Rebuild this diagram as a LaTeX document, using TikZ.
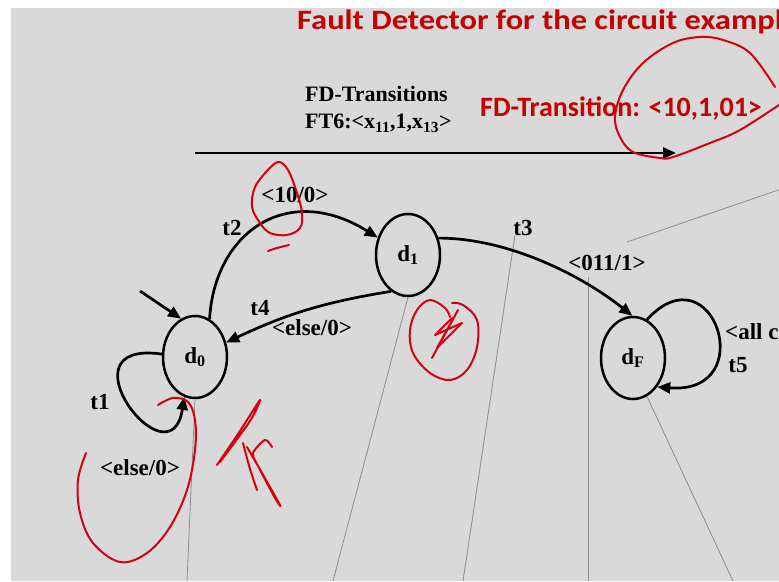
\documentclass[tikz,border=0pt]{standalone}
\usepackage{fontspec}
\setmainfont{Liberation Serif}
\newfontfamily\slidefont{Carlito}
\usepackage{tikz}
\usetikzlibrary{shapes.geometric, arrows.meta, calc}

\definecolor{slidegray}{RGB}{217,217,217}
\definecolor{titlered}{RGB}{196,0,0}
\definecolor{inkred}{RGB}{214,0,16}
\definecolor{guide}{RGB}{140,140,140}
\newcommand{\lblfont}{\fontsize{23}{26}\selectfont\bfseries}
\newcommand{\headfont}{\fontsize{22}{25}\selectfont\bfseries}
\newcommand{\redfont}{\slidefont\fontsize{28}{32}\selectfont\bfseries}

\begin{document}
\begin{tikzpicture}[x=1pt, y=1pt,
    state/.style={draw, ellipse, line width=2.5pt, minimum width=64pt, minimum height=82pt, inner sep=0pt, font=\lblfont},
    edge/.style={line width=2.7pt, -{Triangle[length=13pt, width=11pt]}},
    lbl/.style={inner sep=0pt, font=\lblfont},
    guideline/.style={guide, line width=0.8pt},
    ink/.style={inkred, line width=2pt, line cap=round, line join=round}]
    \clip (0,0) rectangle (779,581);
    \fill[white] (0,0) rectangle (779,581);
    \fill[slidegray] (11,0) rectangle (779,573);

    % Headings
    \node[anchor=base west, inner sep=0pt, text=titlered] (title) at (297,551) {\redfont\scalebox{1.16}[1]{Fault Detector for the circuit example}};
    \node[anchor=base west, inner sep=0pt] (fdhead) at (305,479) {\headfont FD-Transitions};
    \node[anchor=base west, inner sep=0pt] (ft6) at (305,452) {\headfont FT6:<x\textsubscript{11},1,x\textsubscript{13}>};
    \node[anchor=base west, inner sep=0pt, text=titlered] (fdred) at (480,464) {\redfont FD-Transition: <10,1,01>};
    \coordinate (ftfrom) at (195,428);
    \coordinate (ftto) at (676,428);
    \draw[edge] (ftfrom) -- (ftto);

    % States
    \node[state] (d0) at (195,224) {d\textsubscript{0}};
    \node[state] (d1) at (408,326) {d\textsubscript{1}};
    \node[state] (dF) at (633,223) {d\textsubscript{F}};

    % Guide lines of the slide
    \draw[guideline] (d0.south) -- (187,0);
    \draw[guideline] (d1.south) -- (333,0);
    \draw[guideline] (515,346) -- (463,0);
    \draw[guideline] (588,304) -- (588,0);
    \draw[guideline] (dF.-70) -- (733,0);
    \draw[guideline] (627,339) -- (790,395);

    % Transitions
    \coordinate (init) at (140,290);
    \draw[edge] (init) -- (d0.110);
    \draw[edge] (d0.69) .. controls +(5,87) and +(-90,56) .. (d1.150);
    \draw[edge] (d1.245) to[bend right=8] (d0.25);
    \draw[edge] (d1.29) .. controls +(70,0) and +(-50,40) .. (dF.91);
    \draw[edge] (dF.70) .. controls +(66,72) and +(104,-8) .. (dF.-50);
    \draw[edge] (d0.175) .. controls +(-105,15) and +(-14,-90) .. (d0.255);

    % Labels
    \node[lbl] (t2) at (232,353) {t2};
    \node[lbl] (t2in) at (295,386) {<10/0>};
    \node[lbl] (t4) at (260,273) {t4};
    \node[lbl] (t4in) at (312,253) {<else/0>};
    \node[lbl] (t3) at (523,353) {t3};
    \node[lbl] (t3in) at (607,318) {<011/1>};
    \node[lbl, anchor=west] (t5in) at (725,249) {<all c};
    \node[lbl] (t5) at (738,216) {t5};
    \node[lbl] (t1) at (100,179) {t1};
    \node[lbl] (t1in) at (140,113) {<else/0>};

    % Pen marks
    \draw[ink] plot[smooth, tension=0.6] coordinates {(775,494) (750,528) (723,541) (700,544) (673,538) (643,518) (623,491) (615,464) (620,444) (633,429) (660,423) (673,424) (710,438) (740,451) (782,478)};
    \draw[ink] plot[smooth, tension=0.6] coordinates {(265,408) (278,419) (288,411) (297,388) (302,368) (300,353) (287,346) (270,348) (260,358) (252,374) (255,394) (267,410)};
    \draw[ink] plot[smooth] coordinates {(268,330) (277,333) (289,336)};
    \draw[ink] plot[smooth, tension=0.6] coordinates {(450,264) (445,273) (430,281) (417,271) (410,251) (413,228) (430,208) (450,201) (467,211) (477,234) (477,261) (463,276) (452,278)};
    \draw[ink] (432,223) -- (458,271) -- (437,233) -- (462,258) -- (435,246) -- (452,263);
    \draw[ink] plot[smooth, tension=0.6] coordinates {(86,128) (78,101) (80,68) (93,38) (120,19) (147,28) (170,54) (187,91) (195,131) (195,161) (188,179) (173,183) (158,176)};
    \draw[ink] plot[smooth, tension=0.5] coordinates {(217,116) (240,150) (260,181) (250,160) (220,119)};
    \draw[ink] plot[smooth, tension=0.5] coordinates {(243,138) (250,112) (257,91)};
    \draw[ink] plot[smooth, tension=0.5] coordinates {(247,134) (262,108) (280,76) (275,83) (257,117) (253,128) (265,141) (272,134)};
\end{tikzpicture}
\end{document}
